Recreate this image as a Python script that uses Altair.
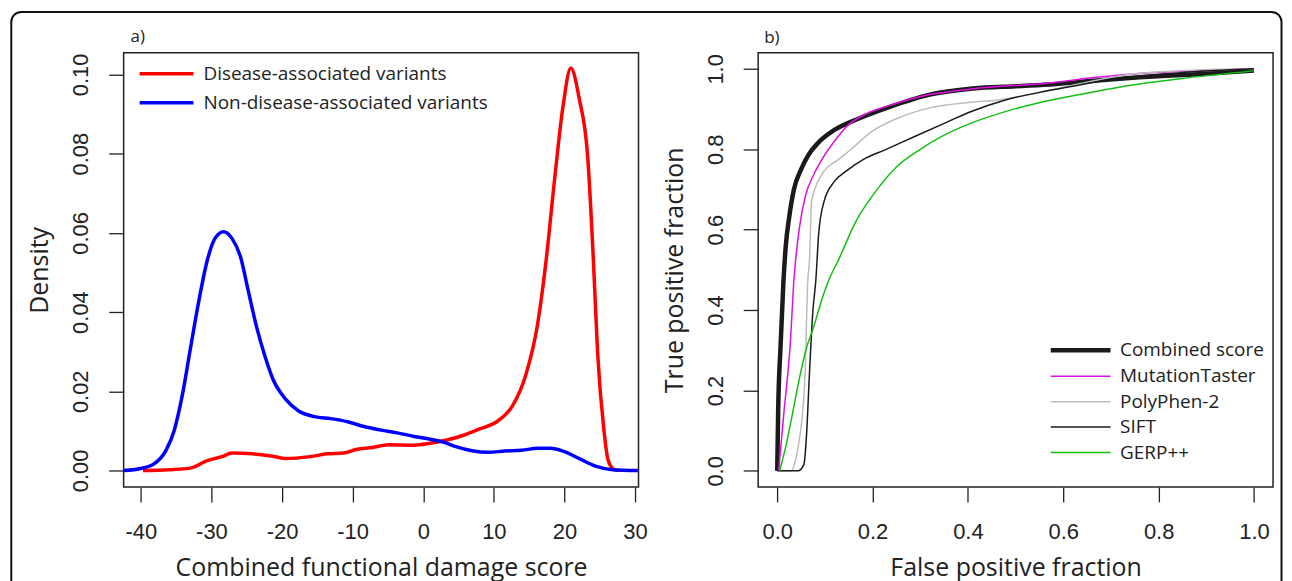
import altair as alt
import pandas as pd

# ---------------- Panel a: density curves ----------------
series_a = ["Disease-associated variants", "Non-disease-associated variants"]
colors_a = ["#ff0000", "#0000ff"]

dis_x = [-39.7, -36.0, -33.0, -30.6, -28.5, -27.1, -24.2, -21.3, -19.5, -16.0, -13.6, -11.3,
         -9.5, -7.2, -4.9, -1.3, 1.0, 3.35, 5.7, 8.0, 10.4, 12.7, 14.5, 16.2, 17.4, 18.6,
         19.8, 20.9, 22.1, 23.3, 24.1, 24.7, 25.6, 26.2, 27.1, 27.7]
dis_y = [0.0, 0.0002, 0.0006, 0.0025, 0.0035, 0.0044, 0.0042, 0.0036, 0.0030, 0.0035, 0.0042, 0.0044,
         0.0053, 0.0058, 0.0065, 0.0064, 0.0069, 0.0077, 0.0089, 0.0105, 0.0123, 0.0165, 0.0240, 0.0370,
         0.0530, 0.0735, 0.0920, 0.1016, 0.0938, 0.0790, 0.0530, 0.0296, 0.0100, 0.0025, 0.0002, 0.0]

non_x = [-42.4, -40.0, -38.2, -36.5, -35.3, -34.1, -33.0, -31.8, -30.6, -29.5, -28.3, -27.1,
         -25.9, -24.8, -23.6, -22.4, -21.3, -19.5, -17.7, -15.4, -13.1, -10.7, -8.4, -6.0,
         -3.7, -1.3, 1.0, 2.8, 4.5, 6.9, 9.2, 11.55, 13.9, 16.2, 18.0, 19.8, 22.1, 24.4,
         26.8, 30.4]
non_y = [0.0, 0.0005, 0.0016, 0.0049, 0.0100, 0.0193, 0.0306, 0.0427, 0.0530, 0.0586, 0.0603, 0.0586,
         0.0540, 0.0455, 0.0362, 0.0287, 0.0231, 0.0180, 0.0151, 0.0136, 0.0131, 0.0123, 0.0111, 0.0102,
         0.0095, 0.0086, 0.0079, 0.0072, 0.0061, 0.0050, 0.0046, 0.0049, 0.0051, 0.0056, 0.0056, 0.0049,
         0.0030, 0.0011, 0.0002, 0.0]

xticks_a = [-40, -30, -20, -10, 0, 10, 20, 30]
yticks_a = [0.00, 0.02, 0.04, 0.06, 0.08, 0.10]

# ---------------- Panel b: ROC curves ----------------
roc_names = ["Combined score", "MutationTaster", "PolyPhen-2", "SIFT", "GERP++"]
roc_colors = ["#1a1a1a", "#e010e0", "#bcbcbc", "#1a1a1a", "#12c012"]
roc_widths = [4.5, 1.5, 1.5, 1.5, 1.5]

comb_x = [0.0, 0.002, 0.007, 0.013, 0.018, 0.025, 0.035, 0.05, 0.065, 0.085, 0.12, 0.17, 0.23,
          0.32, 0.41, 0.5, 0.58, 0.67, 0.76, 0.85, 0.93, 1.0]
comb_y = [0.0, 0.15, 0.31, 0.47, 0.56, 0.63, 0.70, 0.75, 0.785, 0.815, 0.848, 0.876, 0.903,
          0.936, 0.951, 0.957, 0.962, 0.971, 0.979, 0.985, 0.99, 0.996]

mt_x = [0.003, 0.014, 0.021, 0.027, 0.035, 0.046, 0.059, 0.077, 0.094, 0.12, 0.146, 0.19, 0.233,
        0.32, 0.407, 0.581, 0.668, 0.755, 0.877, 1.0]
mt_y = [0.0, 0.145, 0.227, 0.31, 0.474, 0.60, 0.683, 0.738, 0.775, 0.82, 0.857, 0.89, 0.908,
        0.936, 0.95, 0.966, 0.979, 0.988, 0.995, 1.0]

pp_x = [0.0, 0.03, 0.037, 0.044, 0.058, 0.064, 0.068, 0.072, 0.094, 0.129, 0.155, 0.198, 0.25,
        0.32, 0.407, 0.46, 0.547, 0.634, 0.738, 0.842, 1.0]
pp_y = [0.0, 0.0, 0.02, 0.06, 0.227, 0.47, 0.53, 0.67, 0.738, 0.775, 0.80, 0.844, 0.876,
        0.903, 0.917, 0.922, 0.94, 0.963, 0.986, 0.995, 1.0]

sift_x = [0.0, 0.044, 0.056, 0.062, 0.067, 0.075, 0.081, 0.087, 0.098, 0.12, 0.146, 0.181, 0.225,
          0.285, 0.355, 0.407, 0.477, 0.564, 0.634, 0.72, 0.842, 1.0]
sift_y = [0.0, 0.0, 0.016, 0.10, 0.227, 0.40, 0.474, 0.59, 0.669, 0.72, 0.747, 0.775, 0.798,
          0.83, 0.867, 0.894, 0.922, 0.945, 0.96, 0.977, 0.99, 1.0]

gerp_x = [0.005, 0.018, 0.03, 0.046, 0.06, 0.077, 0.092, 0.108, 0.129, 0.164, 0.216, 0.25, 0.30,
          0.35, 0.40, 0.477, 0.547, 0.634, 0.72, 0.842, 1.0]
gerp_y = [0.0, 0.061, 0.13, 0.227, 0.30, 0.36, 0.42, 0.474, 0.526, 0.618, 0.71, 0.756, 0.80,
          0.835, 0.862, 0.893, 0.915, 0.936, 0.955, 0.975, 0.995]

ticks_b = [0.0, 0.2, 0.4, 0.6, 0.8, 1.0]

# ---------------- tables ----------------
rows_a = []
for name, xs, ys in [(series_a[0], dis_x, dis_y), (series_a[1], non_x, non_y)]:
    for i, (xv, yv) in enumerate(zip(xs, ys)):
        rows_a.append({"x": xv, "y": yv, "series": name, "i": i})
df_a = pd.DataFrame(rows_a)

rows_b = []
for name, xs, ys in zip(roc_names, [comb_x, mt_x, pp_x, sift_x, gerp_x],
                        [comb_y, mt_y, pp_y, sift_y, gerp_y]):
    for i, (xv, yv) in enumerate(zip(xs, ys)):
        rows_b.append({"x": xv, "y": yv, "series": name, "i": i})
df_b = pd.DataFrame(rows_b)

W, H = 516.5, 435.5
TXT = "#222222"

# ---------------- left panel ----------------
lines_a = alt.Chart(df_a).mark_line(strokeWidth=3.5, interpolate="monotone").encode(
    x=alt.X("x:Q",
            scale=alt.Scale(domain=[-42.44, 30.49], nice=False, zero=False),
            axis=alt.Axis(values=xticks_a, labelExpr="toString(datum.value)",
                          title="Combined functional damage score")),
    y=alt.Y("y:Q",
            scale=alt.Scale(domain=[-0.00415, 0.10546], nice=False, zero=False),
            axis=alt.Axis(values=yticks_a, format=".2f", title="Density")),
    color=alt.Color("series:N",
                    scale=alt.Scale(domain=series_a, range=colors_a),
                    legend=alt.Legend(title=None, orient="none", legendX=31, legendY=9,
                                      symbolType="M-2.7,0H2.7", symbolSize=400,
                                      symbolStrokeWidth=3.5, labelFont="Open Sans",
                                      labelFontSize=19, labelColor=TXT, labelOffset=25,
                                      labelLimit=500, rowPadding=7, padding=0)),
    order="i:Q",
)

frame = alt.Chart(pd.DataFrame({"k": [0]})).mark_rect(
    filled=False, stroke="#111111", strokeWidth=2, cornerRadius=10
).encode(x=alt.value(-112.7), x2=alt.value(1161.5), y=alt.value(-41), y2=alt.value(545))

left = alt.layer(frame, lines_a).properties(
    width=W, height=H,
    title=alt.TitleParams("a)", anchor="start", frame="group", dx=7, offset=-35,
                          fontSize=17, font="Open Sans", fontWeight="normal", color=TXT),
)

# ---------------- right panel ----------------
legend_b = alt.Legend(title=None, orient="none", legendX=311, legendY=286,
                      symbolType="M-3,0H3", symbolSize=400, labelFont="Open Sans",
                      labelFontSize=19, labelColor=TXT, labelOffset=27, labelLimit=500,
                      rowPadding=4.5, padding=0)

lines_b = alt.Chart(df_b).mark_line(interpolate="monotone").encode(
    x=alt.X("x:Q",
            scale=alt.Scale(domain=[-0.04, 1.04], nice=False, zero=False),
            axis=alt.Axis(values=ticks_b, format=".1f", title="False positive fraction")),
    y=alt.Y("y:Q",
            scale=alt.Scale(domain=[-0.04, 1.04], nice=False, zero=False),
            axis=alt.Axis(values=ticks_b, format=".1f", title="True positive fraction")),
    color=alt.Color("series:N", scale=alt.Scale(domain=roc_names, range=roc_colors),
                    legend=legend_b),
    strokeWidth=alt.StrokeWidth("series:N",
                                scale=alt.Scale(type="ordinal", domain=roc_names, range=roc_widths),
                                legend=legend_b),
    order="i:Q",
)

right = lines_b.properties(
    width=W, height=H,
    title=alt.TitleParams("b)", anchor="start", frame="group", dx=6, offset=6,
                          fontSize=17, font="Open Sans", fontWeight="normal", color=TXT),
)

chart = alt.hconcat(left, right, spacing=119.5, bounds="flush").resolve_scale(
    color="independent", strokeWidth="independent"
).resolve_legend(
    color="independent", strokeWidth="independent"
).properties(
    padding={"left": 1, "top": 1, "right": 0, "bottom": 0}
).configure_view(
    stroke="#222222", strokeWidth=1.5
).configure_axis(
    domain=False, grid=False, tickColor="#222222", tickSize=15, tickWidth=1.3,
    labelFont="Liberation Sans", labelFontSize=22, labelColor=TXT,
    labelFlush=False, labelOverlap=False,
    titleFont="Open Sans", titleFontSize=25, titleFontWeight="normal", titleColor=TXT,
).configure_axisX(
    labelPadding=19.5, titlePadding=13
).configure_axisY(
    labelAngle=270, labelAlign="center", labelBaseline="alphabetic",
    labelPadding=21, titlePadding=17
)

chart.save("out.html", embed_options={"renderer": "svg", "actions": False})
